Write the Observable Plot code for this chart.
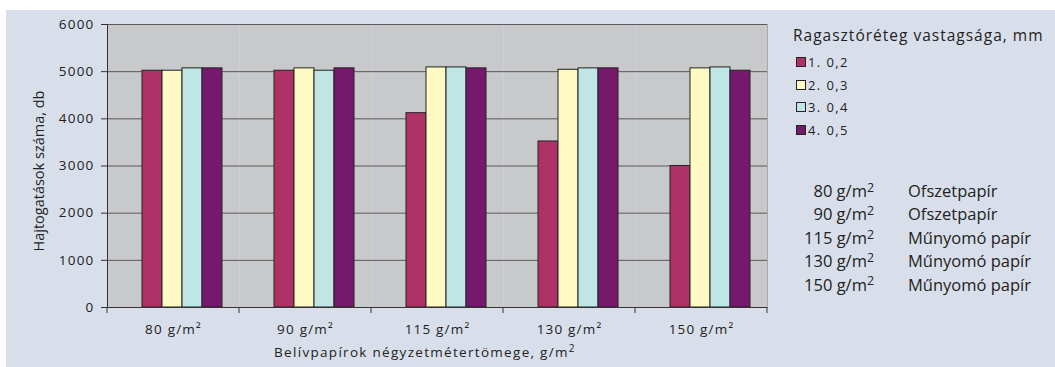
<!DOCTYPE html>
<html>
<head>
<meta charset="utf-8">
<script src="https://cdn.jsdelivr.net/npm/d3@7"></script>
<script src="https://cdn.jsdelivr.net/npm/@observablehq/plot@0.6"></script>
<style>
  html, body { margin: 0; padding: 0; background: #ffffff; width: 1055px; height: 367px; overflow: hidden; }
  #panel { position: absolute; left: 6px; top: 10px; width: 1049px; height: 357px; background: #d9dfea; }
  #chart { position: absolute; left: 0; top: 0; }
  .t { position: absolute; font-family: "Open Sans", sans-serif; color: #222; white-space: nowrap; }
  #ytitle { left: 38px; top: 171px; font-size: 14.5px; transform: translate(-50%, -50%) rotate(-90deg); }
  #xtitle { left: 425px; top: 352px; font-size: 13.5px; letter-spacing: 1.3px; transform: translate(-50%, -50%); }
  #ltitle { left: 793px; top: 35px; font-size: 15.5px; letter-spacing: 1px; transform: translateY(-50%); }
  .li { position: absolute; left: 796px; font-family: "Open Sans", sans-serif; font-size: 13px; letter-spacing: 1.4px; color: #222; transform: translateY(-50%); white-space: nowrap; display: flex; align-items: center; }
  .sw { display: inline-block; width: 8px; height: 8px; border: 1px solid #222; margin-right: 2px; }
  .wl { position: absolute; font-family: "Open Sans", sans-serif; font-size: 16.5px; color: #222; transform: translateY(-50%); white-space: nowrap; }
  .wl sup { font-size: 0.75em; vertical-align: 0; position: relative; top: -0.42em; }
  sup.s { font-size: 0.75em; vertical-align: 0; position: relative; top: -0.5em; }
</style>
</head>
<body>
<div id="panel"></div>
<div id="chart"></div>
<div id="ytitle" class="t">Hajtogatások száma, db</div>
<div id="xtitle" class="t">Belívpapírok négyzetmétertömege, g/m<sup class="s">2</sup></div>
<div id="ltitle" class="t">Ragasztóréteg vastagsága, mm</div>
<div id="legend"></div>
<div id="weights"></div>
<script>
// ---- data ----
const categories = ["80 g/m²", "90 g/m²", "115 g/m²", "130 g/m²", "150 g/m²"];
const series = ["1. 0,2", "2. 0,3", "3. 0,4", "4. 0,5"];
const v02 = [5020, 5020, 4120, 3520, 3000];
const v03 = [5020, 5070, 5090, 5040, 5070];
const v04 = [5070, 5020, 5090, 5070, 5090];
const v05 = [5070, 5070, 5070, 5070, 5020];
const colors = ["#ae3266", "#fffac4", "#bfe5e5", "#76186c"];
const yTicks = [0, 1000, 2000, 3000, 4000, 5000, 6000];
const weightLabels = ["80", "90", "115", "130", "150"];
const paperTypes = ["Ofszetpapír", "Ofszetpapír", "Műnyomó papír", "Műnyomó papír", "Műnyomó papír"];

const valueSets = [v02, v03, v04, v05];
const data = categories.flatMap((c, i) => valueSets.map((arr, j) => ({cat: c, s: series[j], v: arr[i]})));

const plot = Plot.plot({
  width: 780,
  height: 367,
  marginLeft: 106,
  marginRight: 12,
  marginTop: 24,
  marginBottom: 60,
  style: {background: "transparent", fontFamily: "Open Sans, sans-serif", fontSize: "13.5px", color: "#222", letterSpacing: "1.2px"},
  fx: {domain: categories, padding: 0, label: null, axis: null},
  x: {domain: series, paddingInner: 0, paddingOuter: 1.28, align: 0.68, axis: null},
  y: {domain: [0, 6000], label: null, axis: null},
  color: {domain: series, range: colors},
  marks: [
    Plot.frame({fill: "#c8c9cb", stroke: null}),
    Plot.frame({anchor: "right", stroke: "#a9a9a9", facetAnchor: "right"}),
    Plot.gridY(yTicks, {stroke: "#585858", strokeOpacity: 1, strokeWidth: 1}),
    Plot.barY(data, {fx: "cat", x: "s", y: "v", fill: "s", stroke: "#222", strokeWidth: 1, inset: 0}),
    Plot.ruleY([0], {stroke: "#333", strokeWidth: 1}),
    Plot.frame({anchor: "left", stroke: "#333", facetAnchor: "left"}),
    Plot.axisY(yTicks, {anchor: "left", tickSize: 6, tickPadding: 7, stroke: "#333", label: null, tickFormat: d => String(d)}),
    Plot.axisFx({anchor: "bottom", tickSize: 0, tickPadding: 17, label: null})
  ]
});
document.getElementById("chart").appendChild(plot);

// category boundary ticks, from the fx scale
const fx = plot.scale("fx");
const yS = plot.scale("y");
const y0 = yS.apply(0);
const bounds = categories.map(c => fx.apply(c)).concat([fx.apply(categories[categories.length - 1]) + fx.bandwidth]);
d3.select(plot).append("g")
  .selectAll("line").data(bounds).join("line")
  .attr("x1", d => d).attr("x2", d => d)
  .attr("y1", y0).attr("y2", y0 + 6)
  .attr("stroke", "#333");

// legend
const legend = document.getElementById("legend");
series.forEach((s, i) => {
  const d = document.createElement("div");
  d.className = "li";
  d.style.top = (62 + i * 22.6) + "px";
  d.innerHTML = `<span class="sw" style="background:${colors[i]}"></span>${s}`;
  legend.appendChild(d);
});

// paper weight table
const w = document.getElementById("weights");
weightLabels.forEach((lab, i) => {
  const top = 190 + i * 23.4;
  const a = document.createElement("div");
  a.className = "wl";
  a.style.top = top + "px";
  a.style.right = (1055 - 874) + "px";
  a.innerHTML = `${lab} g/m<sup>2</sup>`;
  w.appendChild(a);
  const b = document.createElement("div");
  b.className = "wl";
  b.style.top = top + "px";
  b.style.left = "908px";
  b.textContent = paperTypes[i];
  w.appendChild(b);
});
</script>
</body>
</html>
